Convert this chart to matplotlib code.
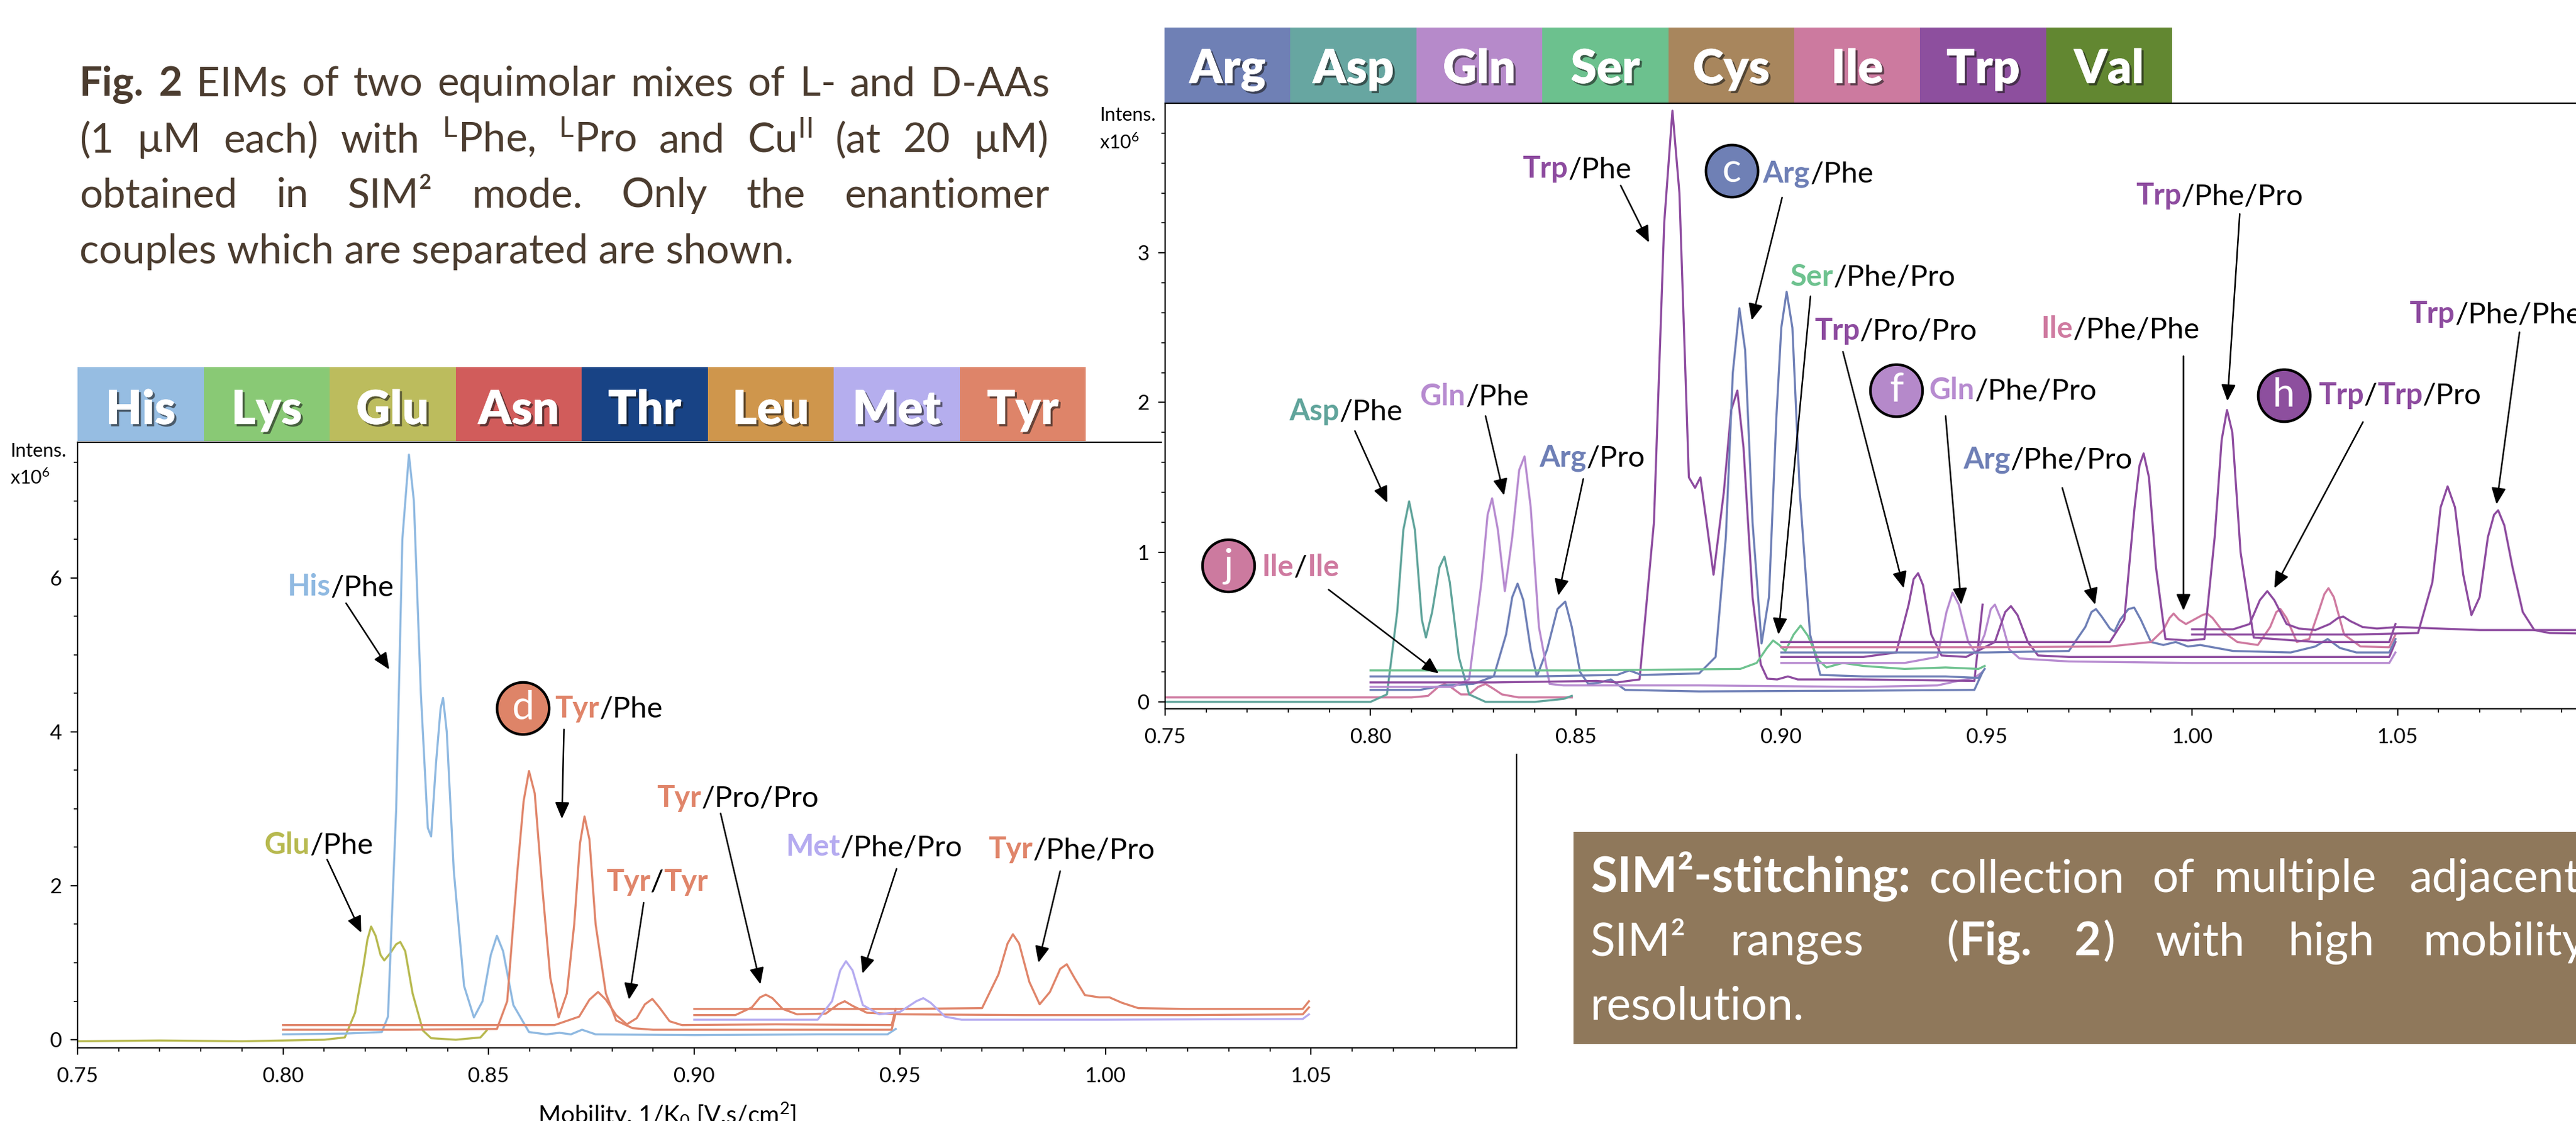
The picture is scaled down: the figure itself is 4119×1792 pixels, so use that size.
import matplotlib
matplotlib.use('Agg')
import matplotlib.pyplot as plt
import matplotlib.patheffects as pe
from matplotlib.patches import Rectangle
from matplotlib.offsetbox import TextArea, HPacker, AnnotationBbox
from matplotlib.ticker import FixedLocator, FuncFormatter

plt.rcParams['font.family'] = ['Lato', 'DejaVu Sans']
plt.rcParams['mathtext.fontset'] = 'custom'
plt.rcParams['mathtext.rm'] = 'Lato'
plt.rcParams['mathtext.it'] = 'Lato:italic'
plt.rcParams['mathtext.bf'] = 'Lato:bold'

# ---------------- data ----------------
left_legend_names = ['His', 'Lys', 'Glu', 'Asn', 'Thr', 'Leu', 'Met', 'Tyr']
left_legend_colors = ['#96bde2', '#89c975', '#bcbc5d', '#d15c5b', '#184385', '#cf964c', '#b5aeee', '#de8469']
right_legend_names = ['Arg', 'Asp', 'Gln', 'Ser', 'Cys', 'Ile', 'Trp', 'Val']
right_legend_colors = ['#6f80b5', '#67a6a1', '#b68aca', '#6cc18e', '#a8865d', '#cc7a9f', '#8d4f9e', '#628731']

x_ticks = [0.75, 0.80, 0.85, 0.90, 0.95, 1.00, 1.05]
x_minor = [0.75, 0.76, 0.77, 0.78, 0.79, 0.80, 0.81, 0.82, 0.83, 0.84, 0.85, 0.86, 0.87, 0.88,
           0.89, 0.90, 0.91, 0.92, 0.93, 0.94, 0.95, 0.96, 0.97, 0.98, 0.99, 1.00, 1.01, 1.02,
           1.03, 1.04, 1.05, 1.06, 1.07, 1.08, 1.09]
left_y_ticks = [0, 2, 4, 6]
left_y_minor = [0.5, 1, 1.5, 2.5, 3, 3.5, 4.5, 5, 5.5, 6.5, 7, 7.5]
right_y_ticks = [0, 1, 2, 3]
right_y_minor = [0.2, 0.4, 0.6, 0.8, 1.2, 1.4, 1.6, 1.8, 2.2, 2.4, 2.6, 2.8, 3.2, 3.4, 3.6, 3.8]

# left panel traces (x: mobility, y: intensity x1e6)
glu_x = [0.750, 0.770, 0.790, 0.810, 0.8150, 0.8175, 0.8195, 0.8205, 0.8214, 0.8225, 0.8237, 0.8246,
         0.8260, 0.8275, 0.8285, 0.8297, 0.8315, 0.8340, 0.8360, 0.8420, 0.8480, 0.8495]
glu_y = [-0.02, -0.01, -0.02, 0.00, 0.03, 0.35, 0.95, 1.30, 1.47, 1.35, 1.10, 1.03,
         1.12, 1.24, 1.27, 1.15, 0.60, 0.12, 0.02, 0.00, 0.03, 0.12]
his_x = [0.800, 0.815, 0.8240, 0.8255, 0.8275, 0.8290, 0.8306, 0.8318, 0.8335, 0.8352, 0.8360,
         0.8372, 0.8383, 0.8389, 0.8398, 0.8415, 0.8440, 0.8464, 0.8485, 0.8505, 0.8520, 0.8535,
         0.8560, 0.8598, 0.8640, 0.8672, 0.8700, 0.8727, 0.8760, 0.900, 0.930, 0.9470, 0.9490]
his_y = [0.07, 0.08, 0.10, 0.30, 3.00, 6.50, 7.60, 7.00, 4.50, 2.75, 2.64,
         3.60, 4.30, 4.44, 4.00, 2.20, 0.70, 0.29, 0.50, 1.10, 1.35, 1.15,
         0.45, 0.10, 0.07, 0.09, 0.07, 0.13, 0.07, 0.06, 0.07, 0.07, 0.14]
tyrphe_x = [0.800, 0.830, 0.8520, 0.8545, 0.8570, 0.8585, 0.8598, 0.8612, 0.8630, 0.8650, 0.8670,
            0.8690, 0.8708, 0.8722, 0.8733, 0.8745, 0.8760, 0.8785, 0.8810, 0.8850, 0.8900,
            0.9200, 0.9480, 0.9490]
tyrphe_y = [0.13, 0.13, 0.14, 0.50, 2.20, 3.10, 3.49, 3.20, 2.00, 0.80, 0.29,
            0.60, 1.50, 2.55, 2.90, 2.60, 1.50, 0.60, 0.25, 0.15, 0.13,
            0.13, 0.13, 0.35]
tyrtyr_x = [0.800, 0.840, 0.8660, 0.8720, 0.8745, 0.8766, 0.8785, 0.8810, 0.8836, 0.8860, 0.8880,
            0.8898, 0.8915, 0.8940, 0.8970, 0.9200, 0.9480, 0.9490]
tyrtyr_y = [0.19, 0.19, 0.19, 0.30, 0.52, 0.62, 0.52, 0.32, 0.20, 0.28, 0.46,
            0.53, 0.42, 0.24, 0.19, 0.20, 0.19, 0.40]
tyrpropro_x = [0.900, 0.9100, 0.9140, 0.9160, 0.9174, 0.9190, 0.9215, 0.9250, 0.9320, 0.9350,
               0.9366, 0.9385, 0.9420, 0.9500, 0.9800, 1.0200, 1.0480, 1.0495]
tyrpropro_y = [0.32, 0.32, 0.42, 0.55, 0.585, 0.54, 0.40, 0.33, 0.34, 0.46,
               0.50, 0.44, 0.35, 0.33, 0.32, 0.32, 0.33, 0.42]
tyrphepro_x = [0.900, 0.950, 0.9700, 0.9740, 0.9762, 0.9775, 0.9790, 0.9815, 0.9840, 0.9865,
               0.9890, 0.9906, 0.9925, 0.9950, 0.9985, 1.0010, 1.0040, 1.0080, 1.0200, 1.0480, 1.0495]
tyrphepro_y = [0.40, 0.40, 0.41, 0.85, 1.25, 1.37, 1.25, 0.75, 0.46, 0.62,
               0.92, 0.98, 0.80, 0.58, 0.55, 0.55, 0.48, 0.41, 0.40, 0.40, 0.50]
metphepro_x = [0.900, 0.930, 0.9335, 0.9355, 0.9369, 0.9385, 0.9410, 0.9450, 0.9500, 0.9540,
               0.9557, 0.9575, 0.9610, 0.9650, 1.000, 1.0480, 1.0495]
metphepro_y = [0.26, 0.26, 0.50, 0.90, 1.02, 0.90, 0.45, 0.33, 0.36, 0.50,
               0.54, 0.48, 0.30, 0.26, 0.26, 0.27, 0.33]

# right panel traces
ileile_x = [0.750, 0.780, 0.810, 0.8140, 0.8165, 0.8180, 0.8195, 0.8220, 0.8240, 0.8262, 0.8280,
            0.8298, 0.8320, 0.8360, 0.8450, 0.8490]
ileile_y = [0.03, 0.03, 0.03, 0.04, 0.10, 0.12, 0.10, 0.05, 0.05, 0.10, 0.12,
            0.09, 0.05, 0.03, 0.03, 0.03]
asp_x = [0.750, 0.780, 0.8000, 0.8040, 0.8065, 0.8080, 0.8094, 0.8108, 0.8125, 0.8135, 0.8150,
         0.8168, 0.8180, 0.8193, 0.8215, 0.8240, 0.8280, 0.8400, 0.8470, 0.8490]
asp_y = [0.00, 0.00, 0.00, 0.05, 0.60, 1.15, 1.34, 1.15, 0.55, 0.43, 0.60,
         0.90, 0.97, 0.80, 0.30, 0.05, 0.00, 0.00, 0.02, 0.04]
ser_x = [0.800, 0.850, 0.8900, 0.8940, 0.8965, 0.8980, 0.8995, 0.9010, 0.9030, 0.9047, 0.9065,
         0.9090, 0.9110, 0.9150, 0.9200, 0.9300, 0.9400, 0.9480, 0.9495]
ser_y = [0.21, 0.21, 0.22, 0.26, 0.36, 0.41, 0.38, 0.34, 0.45, 0.51, 0.44,
         0.28, 0.23, 0.26, 0.24, 0.22, 0.23, 0.22, 0.24]
argphe_x = [0.800, 0.840, 0.8600, 0.8630, 0.8660, 0.8800, 0.8840, 0.8865, 0.8882, 0.8898, 0.8912,
            0.8930, 0.8952, 0.8970, 0.8988, 0.9000, 0.9013, 0.9027, 0.9045, 0.9070, 0.9095,
            0.9200, 0.9400, 0.9480, 0.9495]
argphe_y = [0.17, 0.17, 0.18, 0.21, 0.18, 0.19, 0.30, 1.10, 2.20, 2.63, 2.35,
            1.20, 0.39, 0.70, 1.90, 2.50, 2.74, 2.50, 1.40, 0.45, 0.18,
            0.17, 0.17, 0.16, 0.22]
trpphe_x = [0.800, 0.830, 0.8550, 0.8600, 0.8655, 0.8690, 0.8715, 0.8735, 0.8752, 0.8775, 0.8790,
            0.8803, 0.8818, 0.8835, 0.8860, 0.8878, 0.8893, 0.8908, 0.8930, 0.8950, 0.8966,
            0.8990, 0.9016, 0.9040, 0.9200, 0.9470, 0.9490]
trpphe_y = [0.13, 0.13, 0.14, 0.13, 0.15, 1.20, 3.20, 3.95, 3.40, 1.50, 1.43,
            1.50, 1.20, 0.85, 1.40, 1.95, 2.08, 1.70, 0.70, 0.25, 0.155,
            0.15, 0.17, 0.15, 0.15, 0.14, 0.65]
glnphe_x = [0.800, 0.820, 0.8240, 0.8270, 0.8285, 0.8296, 0.8310, 0.8327, 0.8345, 0.8362, 0.8375,
            0.8390, 0.8410, 0.8436, 0.8470, 0.8800, 0.9200, 0.9380, 0.9430, 0.9470, 0.9490]
glnphe_y = [0.10, 0.10, 0.15, 0.80, 1.25, 1.36, 1.15, 0.74, 1.10, 1.55, 1.64,
            1.30, 0.50, 0.12, 0.11, 0.11, 0.10, 0.11, 0.14, 0.16, 0.20]
argpro_x = [0.800, 0.8120, 0.8180, 0.8250, 0.8300, 0.8330, 0.8345, 0.8358, 0.8372, 0.8390, 0.8405,
            0.8430, 0.8455, 0.8474, 0.8490, 0.8510, 0.8530, 0.8560, 0.8585, 0.8620, 0.8800,
            0.9200, 0.9470, 0.9490]
argpro_y = [0.08, 0.08, 0.11, 0.12, 0.17, 0.45, 0.70, 0.79, 0.68, 0.35, 0.17,
            0.35, 0.62, 0.67, 0.50, 0.20, 0.12, 0.13, 0.15, 0.08, 0.07,
            0.075, 0.08, 0.20]
trpphepro_x = [0.900, 0.950, 0.9800, 0.9835, 0.9860, 0.9872, 0.9882, 0.9895, 0.9912, 0.9935, 0.9990,
               1.0030, 1.0055, 1.0072, 1.0085, 1.0098, 1.0118, 1.0150, 1.0300, 1.0480, 1.0495]
trpphepro_y = [0.40, 0.40, 0.40, 0.55, 1.30, 1.58, 1.66, 1.50, 0.90, 0.42, 0.41,
               0.42, 1.10, 1.75, 1.95, 1.80, 1.00, 0.43, 0.40, 0.40, 0.52]
ilephephe_x = [0.900, 0.950, 0.9800, 0.9900, 0.9930, 0.9945, 0.9955, 0.9968, 0.9985, 1.0005, 1.0025,
               1.0037, 1.0050, 1.0075, 1.0110, 1.0160, 1.0190, 1.0205, 1.0215, 1.0230, 1.0255,
               1.0285, 1.0310, 1.0322, 1.0332, 1.0345, 1.0370, 1.0410, 1.0480, 1.0495]
ilephephe_y = [0.365, 0.365, 0.37, 0.40, 0.48, 0.56, 0.59, 0.55, 0.52, 0.55, 0.58,
               0.59, 0.56, 0.47, 0.40, 0.38, 0.50, 0.60, 0.62, 0.56, 0.40,
               0.42, 0.62, 0.72, 0.76, 0.70, 0.45, 0.37, 0.365, 0.45]
argphepro_x = [0.900, 0.950, 0.9700, 0.9740, 0.9755, 0.9766, 0.9780, 0.9800, 0.9811, 0.9825, 0.9845,
               0.9859, 0.9875, 0.9900, 0.9930, 0.9960, 0.9990, 1.0020, 1.0100, 1.0240, 1.0300,
               1.0330, 1.0360, 1.0400, 1.0480, 1.0495]
argphepro_y = [0.33, 0.33, 0.34, 0.50, 0.60, 0.62, 0.57, 0.49, 0.47, 0.55, 0.62,
               0.63, 0.55, 0.40, 0.38, 0.40, 0.37, 0.38, 0.34, 0.33, 0.37,
               0.42, 0.36, 0.33, 0.33, 0.42]
trppropro_x = [0.900, 0.920, 0.9280, 0.9310, 0.9322, 0.9333, 0.9345, 0.9365, 0.9390, 0.9450, 0.9520,
               0.9545, 0.9559, 0.9575, 0.9600, 0.9625, 0.9700, 1.0000, 1.0480, 1.0495]
trppropro_y = [0.30, 0.30, 0.33, 0.65, 0.82, 0.86, 0.78, 0.45, 0.31, 0.30, 0.40,
               0.60, 0.64, 0.58, 0.40, 0.31, 0.30, 0.30, 0.30, 0.40]
glnphepro_x = [0.900, 0.930, 0.9380, 0.9402, 0.9417, 0.9432, 0.9455, 0.9475, 0.9495, 0.9510, 0.9520,
               0.9535, 0.9555, 0.9580, 0.9700, 1.0000, 1.0480, 1.0495]
glnphepro_y = [0.26, 0.26, 0.30, 0.60, 0.73, 0.65, 0.40, 0.32, 0.45, 0.62, 0.65,
               0.55, 0.35, 0.29, 0.27, 0.26, 0.26, 0.33]
trptrppro_x = [1.000, 1.010, 1.0140, 1.0165, 1.0183, 1.0200, 1.0230, 1.0260, 1.0300, 1.0335, 1.0355,
               1.0368, 1.0385, 1.0415, 1.0450, 1.0500, 1.0700, 1.1000]
trptrppro_y = [0.485, 0.485, 0.52, 0.68, 0.74, 0.68, 0.52, 0.49, 0.48, 0.52, 0.56,
               0.57, 0.54, 0.50, 0.49, 0.50, 0.48, 0.48]
trpphephe_x = [1.000, 1.040, 1.0550, 1.0585, 1.0605, 1.0622, 1.0640, 1.0660, 1.0680, 1.0700, 1.0720,
               1.0735, 1.0745, 1.0760, 1.0780, 1.0805, 1.0833, 1.0870, 1.1000]
trpphephe_y = [0.45, 0.45, 0.46, 0.80, 1.30, 1.44, 1.30, 0.85, 0.58, 0.70, 1.10,
               1.25, 1.28, 1.18, 0.90, 0.60, 0.48, 0.46, 0.455]

C_HIS, C_GLU, C_TYR, C_MET = '#8fb9e1', '#b7b94f', '#e0856a', '#b5abf0'
C_ARG, C_ASP, C_GLN, C_SER, C_ILE, C_TRP = '#6e7fb6', '#60a49b', '#b78bd0', '#6ec28f', '#cf7aa0', '#8d4b9f'

# ---------------- figure ----------------
W, H = 4119, 1792
fig = plt.figure(figsize=(W / 100, H / 100), dpi=100)
fig.patch.set_facecolor('white')


def fx(X):
    return X / W


def fy(Y):
    return 1 - Y / H


LW = 2.4


def style(ax, yt, ymin, ylim):
    ax.set_xlim(0.75, 1.10)
    ax.set_ylim(*ylim)
    ax.xaxis.set_major_locator(FixedLocator(x_ticks))
    ax.xaxis.set_minor_locator(FixedLocator(x_minor))
    ax.xaxis.set_major_formatter(FuncFormatter(lambda v, p: f"{v:.2f}"))
    ax.yaxis.set_major_locator(FixedLocator(yt))
    ax.yaxis.set_minor_locator(FixedLocator(ymin))
    ax.yaxis.set_major_formatter(FuncFormatter(lambda v, p: f"{v:g}"))
    ax.tick_params(which='major', direction='out', length=8, width=1.5, labelsize=24)
    ax.tick_params(which='minor', direction='out', length=4, width=1.2)
    ax.tick_params(axis='x', pad=14)
    ax.tick_params(axis='y', pad=10)
    for s in ax.spines.values():
        s.set_linewidth(1.6)


ax_l = fig.add_axes([124 / W, 1 - 1675 / H, (2425 - 124) / W, (1675 - 707) / H], zorder=1)
ax_bg = fig.add_axes([1858 / W, 1 - 1205 / H, (W - 1858) / W, 1205 / H], zorder=2)
ax_bg.set_xticks([])
ax_bg.set_yticks([])
for s in ax_bg.spines.values():
    s.set_visible(False)
ax_r = fig.add_axes([1863 / W, 1 - 1133 / H, (4162 - 1863) / W, (1133 - 165) / H], zorder=3)

style(ax_l, left_y_ticks, left_y_minor, (-0.105, 7.76))
style(ax_r, right_y_ticks, right_y_minor, (-0.046, 4.0))

for xs, ys, c in [(glu_x, glu_y, C_GLU), (his_x, his_y, C_HIS), (tyrphe_x, tyrphe_y, C_TYR),
                  (tyrtyr_x, tyrtyr_y, C_TYR), (tyrpropro_x, tyrpropro_y, C_TYR),
                  (tyrphepro_x, tyrphepro_y, C_TYR), (metphepro_x, metphepro_y, C_MET)]:
    ax_l.plot(xs, ys, color=c, lw=LW, solid_joinstyle='round')

for xs, ys, c in [(ileile_x, ileile_y, C_ILE), (asp_x, asp_y, C_ASP), (argpro_x, argpro_y, C_ARG),
                  (glnphe_x, glnphe_y, C_GLN), (trpphe_x, trpphe_y, C_TRP), (argphe_x, argphe_y, C_ARG),
                  (ser_x, ser_y, C_SER), (glnphepro_x, glnphepro_y, C_GLN),
                  (trppropro_x, trppropro_y, C_TRP), (argphepro_x, argphepro_y, C_ARG),
                  (ilephephe_x, ilephephe_y, C_ILE), (trpphepro_x, trpphepro_y, C_TRP),
                  (trpphephe_x, trpphephe_y, C_TRP), (trptrppro_x, trptrppro_y, C_TRP)]:
    ax_r.plot(xs, ys, color=c, lw=LW, solid_joinstyle='round')

LBL = 34


def label(ax, x, y, parts):
    kids = [TextArea(s, textprops=dict(color=c, fontsize=LBL, fontweight='bold' if b else 'normal'))
            for s, c, b in parts]
    box = HPacker(children=kids, align='baseline', pad=0, sep=0)
    ab = AnnotationBbox(box, (x, y), xycoords='data', box_alignment=(0, 0.5), frameon=False,
                        pad=0, annotation_clip=False, zorder=6)
    ax.add_artist(ab)


def arrow(ax, tail, head):
    ax.annotate('', xy=head, xytext=tail,
                arrowprops=dict(arrowstyle='-|>,head_length=0.8,head_width=0.35', color='black',
                                lw=1.8, shrinkA=0, shrinkB=0, mutation_scale=20),
                annotation_clip=False, zorder=6)


def badge(ax, x, y, letter, color):
    ax.scatter([x], [y], s=3600, c=color, edgecolors='black', linewidths=3, zorder=7, clip_on=False)
    ax.text(x, y, letter, color='white', fontsize=46, ha='center', va='center', zorder=8)


K = 'black'
# left annotations
label(ax_l, 0.8010, 5.88, [('His', C_HIS, True), ('/Phe', K, False)])
arrow(ax_l, (0.8153, 5.67), (0.8258, 4.81))
badge(ax_l, 0.8583, 4.31, 'd', '#de8468')
label(ax_l, 0.8661, 4.30, [('Tyr', C_TYR, True), ('/Phe', K, False)])
arrow(ax_l, (0.8683, 4.03), (0.8678, 2.87))
label(ax_l, 0.7954, 2.53, [('Glu', C_GLU, True), ('/Phe', K, False)])
arrow(ax_l, (0.8107, 2.34), (0.8190, 1.39))
label(ax_l, 0.8785, 2.05, [('Tyr', C_TYR, True), ('/', K, False), ('Tyr', C_TYR, True)])
arrow(ax_l, (0.8877, 1.78), (0.8841, 0.52))
label(ax_l, 0.8909, 3.14, [('Tyr', C_TYR, True), ('/Pro/Pro', K, False)])
arrow(ax_l, (0.9064, 2.94), (0.9161, 0.72))
label(ax_l, 0.9222, 2.50, [('Met', C_MET, True), ('/Phe/Pro', K, False)])
arrow(ax_l, (0.9492, 2.22), (0.9409, 0.86))
label(ax_l, 0.9715, 2.47, [('Tyr', C_TYR, True), ('/Phe/Pro', K, False)])
arrow(ax_l, (0.9890, 2.19), (0.9837, 1.00))

# right annotations
label(ax_r, 0.8370, 3.56, [('Trp', C_TRP, True), ('/Phe', K, False)])
arrow(ax_r, (0.8609, 3.45), (0.8678, 3.07))
badge(ax_r, 0.8879, 3.55, 'c', '#6f80b5')
label(ax_r, 0.8955, 3.53, [('Arg', C_ARG, True), ('/Phe', K, False)])
arrow(ax_r, (0.9002, 3.37), (0.8928, 2.55))
label(ax_r, 0.9022, 2.84, [('Ser', C_SER, True), ('/Phe/Pro', K, False)])
arrow(ax_r, (0.9071, 2.71), (0.8993, 0.45))
label(ax_r, 0.9080, 2.48, [('Trp', C_TRP, True), ('/Pro/Pro', K, False)])
arrow(ax_r, (0.9150, 2.34), (0.9298, 0.76))
badge(ax_r, 0.9280, 2.08, 'f', '#b589ca')
label(ax_r, 0.9359, 2.08, [('Gln', C_GLN, True), ('/Phe/Pro', K, False)])
arrow(ax_r, (0.9400, 1.91), (0.9438, 0.65))
label(ax_r, 0.9632, 2.49, [('Ile', C_ILE, True), ('/Phe/Phe', K, False)])
arrow(ax_r, (0.9979, 2.31), (0.9979, 0.61))
label(ax_r, 0.9863, 3.38, [('Trp', C_TRP, True), ('/Phe/Pro', K, False)])
arrow(ax_r, (1.0116, 3.26), (1.0086, 2.01))
label(ax_r, 0.9443, 1.62, [('Arg', C_ARG, True), ('/Phe/Pro', K, False)])
arrow(ax_r, (0.9684, 1.43), (0.9764, 0.65))
badge(ax_r, 1.0223, 2.05, 'h', '#8d4f9e')
label(ax_r, 1.0307, 2.05, [('Trp', C_TRP, True), ('/', K, False), ('Trp', C_TRP, True), ('/Pro', K, False)])
arrow(ax_r, (1.0416, 1.87), (1.0200, 0.76))
label(ax_r, 1.0529, 2.59, [('Trp', C_TRP, True), ('/Phe/Phe', K, False)])
arrow(ax_r, (1.0797, 2.47), (1.0741, 1.32))
label(ax_r, 0.7802, 1.94, [('Asp', C_ASP, True), ('/Phe', K, False)])
arrow(ax_r, (0.7962, 1.81), (0.8041, 1.33))
label(ax_r, 0.8120, 2.04, [('Gln', C_GLN, True), ('/Phe', K, False)])
arrow(ax_r, (0.8280, 1.91), (0.8325, 1.38))
label(ax_r, 0.8411, 1.63, [('Arg', C_ARG, True), ('/Pro', K, False)])
arrow(ax_r, (0.8518, 1.49), (0.8457, 0.71))
badge(ax_r, 0.7654, 0.91, 'j', '#cc7a9f')
label(ax_r, 0.7735, 0.90, [('Ile', C_ILE, True), ('/', K, False), ('Ile', C_ILE, True)])
arrow(ax_r, (0.7898, 0.75), (0.8166, 0.19))

# intensity labels
for X, Y1, Y2 in [(16, 721, 764), (1758, 184, 228)]:
    fig.text(fx(X), fy(Y1), 'Intens.', fontsize=22, va='center', ha='left', zorder=10)
    fig.text(fx(X), fy(Y2), r'x10$^{6}$', fontsize=22, va='center', ha='left', zorder=10)

fig.text(fx(1067), fy(1760), r'Mobility, 1/K$_{0}$ [V.s/cm$^{2}$]', fontsize=28, ha='center', va='top', zorder=10)

# legend bars
shadow = [pe.withSimplePatchShadow(offset=(2.5, -2.5), shadow_rgbFace='#1a1a1a', alpha=0.6), pe.Normal()]


def legend_bar(names, colors, X0, X1, Ytop, Ybot, Ybase):
    bw = (X1 - X0) / len(names)
    for i, (n, c) in enumerate(zip(names, colors)):
        fig.add_artist(Rectangle((fx(X0 + i * bw), fy(Ybot)), bw / W, (Ybot - Ytop) / H,
                                 transform=fig.transFigure, fc=c, ec='none', zorder=5))
        fig.text(fx(X0 + (i + 0.5) * bw), fy(Ybase), n, color='white', fontsize=54, fontweight='heavy',
                 ha='center', va='baseline', path_effects=shadow, zorder=6)


legend_bar(left_legend_names, left_legend_colors, 124, 1736, 587, 705, 678)
legend_bar(right_legend_names, right_legend_colors, 1862, 3473, 44, 164, 133)

# caption (justified)
CAP = '#4b3c2f'
renderer = fig.canvas.get_renderer()


def line_words(tokens, X0, X1, Ybase, size, color, justify=True):
    texts = [fig.text(0, fy(Ybase), s, fontsize=size, fontweight=w, color=color,
                      ha='left', va='baseline', zorder=10) for s, w in tokens]
    widths = [t.get_window_extent(renderer).width for t in texts]
    if justify and len(texts) > 1:
        gap = (X1 - X0 - sum(widths)) / (len(texts) - 1)
    else:
        gap = size * 100 / 72 * 0.25
    x = X0
    for t, wd in zip(texts, widths):
        t.set_x(fx(x))
        x += wd + gap


N, B = 'normal', 'bold'
CS = 47
line_words([('Fig.', B), ('2', B), ('EIMs', N), ('of', N), ('two', N), ('equimolar', N), ('mixes', N),
            ('of', N), ('L-', N), ('and', N), ('D-AAs', N)], 127, 1678, 153, CS, CAP)
line_words([('(1', N), ('µM', N), ('each)', N), ('with', N), (r'$^{\mathrm{L}}$Phe,', N),
            (r'$^{\mathrm{L}}$Pro', N), ('and', N), (r'Cu$^{\mathrm{II}}$', N), ('(at', N), ('20', N),
            ('µM)', N)], 127, 1676, 243, CS, CAP)
line_words([('obtained', N), ('in', N), ('SIM²', N), ('mode.', N), ('Only', N), ('the', N),
            ('enantiomer', N)], 127, 1678, 331, CS, CAP)
fig.text(fx(127), fy(421), 'couples which are separated are shown.', fontsize=CS, color=CAP,
         ha='left', va='baseline', zorder=10)

# brown box
fig.add_artist(Rectangle((fx(2516), fy(1669)), (W + 20 - 2516) / W, (1669 - 1330) / H,
                         transform=fig.transFigure, fc='#8f785b', ec='none', zorder=5))
BS = 53
box_words = [
    ('SIM²-stitching:', B, 2543, 1426, 56), ('collection', N, 3085, 1426, BS), ('of', N, 3442, 1426, BS),
    ('multiple', N, 3540, 1426, BS), ('adjacent', N, 3853, 1426, BS),
    ('SIM²', N, 2543, 1527, BS), ('ranges', N, 2767, 1527, BS), ('(', N, 3113, 1527, BS),
    ('Fig.', B, 3132, 1527, BS), ('2', B, 3316, 1527, BS), (')', N, 3363, 1527, BS),
    ('with', N, 3447, 1527, BS), ('high', N, 3659, 1527, BS), ('mobility', N, 3875, 1527, BS),
    ('resolution.', N, 2543, 1629, BS),
]
for s, w, X, Y, sz in box_words:
    fig.text(fx(X), fy(Y), s, fontsize=sz, fontweight=w, color='white', ha='left', va='baseline', zorder=6)

fig.savefig('out.png', dpi=100)
